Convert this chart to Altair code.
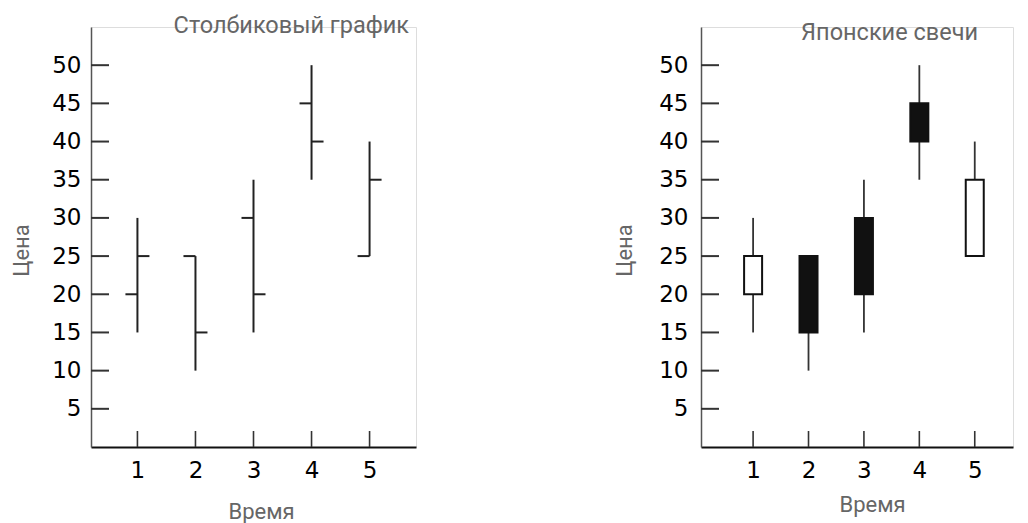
import altair as alt
import pandas as pd

times = [1, 2, 3, 4, 5]
opens = [20, 25, 30, 45, 25]
highs = [30, 25, 35, 50, 40]
lows = [15, 10, 15, 35, 25]
closes = [25, 15, 20, 40, 35]
y_ticks = [5, 10, 15, 20, 25, 30, 35, 40, 45, 50]
x_ticks = [1, 2, 3, 4, 5]
titles = ["Столбиковый график", "Японские свечи"]

df = pd.DataFrame({"t": times, "open": opens, "high": highs, "low": lows, "close": closes})
df["dir"] = ["up" if c > o else "down" for o, c in zip(opens, closes)]
ydf = pd.DataFrame({"v": y_ticks})
xdf = pd.DataFrame({"v": x_ticks})

FONT_NUM = "DejaVu Sans"
FONT_TXT = "Roboto"
H = 420


def panel(kind, xdom, w, lab_pad, title_pad, xt_pad, xt_x, title_text, tx, ty):
    xs = alt.Scale(domain=xdom, nice=False, zero=False)
    ys = alt.Scale(domain=[0, 55], nice=False, zero=True)
    xaxis = alt.Axis(values=x_ticks, ticks=False, grid=False, domainColor="#111",
                     domainWidth=2, labelFont=FONT_NUM, labelFontSize=23,
                     labelColor="#000", labelPadding=12, title="Время",
                     titleFont=FONT_TXT, titleFontSize=22, titleColor="#666",
                     titleFontWeight="normal", titlePadding=xt_pad, titleX=xt_x)
    yaxis = alt.Axis(values=y_ticks, ticks=False, grid=False, domainColor="#555",
                     domainWidth=1.5, labelFont=FONT_NUM, labelFontSize=23,
                     labelColor="#000", labelPadding=lab_pad, title="Цена",
                     titleFont=FONT_TXT, titleFontSize=22, titleColor="#666",
                     titleFontWeight="normal", titlePadding=title_pad, titleY=223)
    X = lambda f: alt.X(f, type="quantitative", scale=xs, axis=xaxis)
    Y = lambda f: alt.Y(f, type="quantitative", scale=ys, axis=yaxis)

    ytick = alt.Chart(ydf).mark_rule(color="#333", strokeWidth=2).encode(
        y=Y("v"), x=alt.value(0), x2=alt.value(18))
    xtick = alt.Chart(xdf).mark_rule(color="#333", strokeWidth=1.6).encode(
        x=X("v"), y=alt.value(H - 16), y2=alt.value(H))
    base = alt.Chart(df)
    layers = [ytick, xtick]
    if kind == "ohlc":
        hl = base.mark_rule(color="#222", strokeWidth=2).encode(x=X("t"), y=Y("low"), y2="high")
        op = base.mark_rule(color="#222", strokeWidth=2, x2Offset=-12).encode(
            x=X("t"), x2="t", y=Y("open"))
        cl = base.mark_rule(color="#222", strokeWidth=2, x2Offset=12).encode(
            x=X("t"), x2="t", y=Y("close"))
        layers += [hl, op, cl]
    else:
        wick = base.mark_rule(color="#333", strokeWidth=1.8).encode(x=X("t"), y=Y("low"), y2="high")
        body = base.mark_bar(size=18, stroke="#111", strokeWidth=2).encode(
            x=X("t"), y=Y("open"), y2="close",
            fill=alt.Fill("dir:N", scale=alt.Scale(domain=["up", "down"], range=["white", "#111"]),
                          legend=None))
        layers += [wick, body]
    ttl = alt.Chart(pd.DataFrame({"s": [title_text]})).mark_text(
        align="right", baseline="middle", font=FONT_TXT, fontSize=23.5, color="#666").encode(
        text="s:N", x=alt.value(tx), y=alt.value(ty))
    layers.append(ttl)
    return alt.layer(*layers).properties(width=w, height=H)


left = panel("ohlc", [0.2, 5.8], 325, 10, 18, 19, 170, titles[0], 318, -1)
right = panel("candle", [0.15, 5.6], 312, 13, 22, 12, 171, titles[1], 277, 6)

chart = alt.hconcat(left, right, spacing=196).properties(
    padding={"left": 2, "top": 5, "right": 0, "bottom": 0}
).configure_view(stroke=None).configure(background="white")

chart.save("out.html", embed_options={"renderer": "svg", "actions": False})
